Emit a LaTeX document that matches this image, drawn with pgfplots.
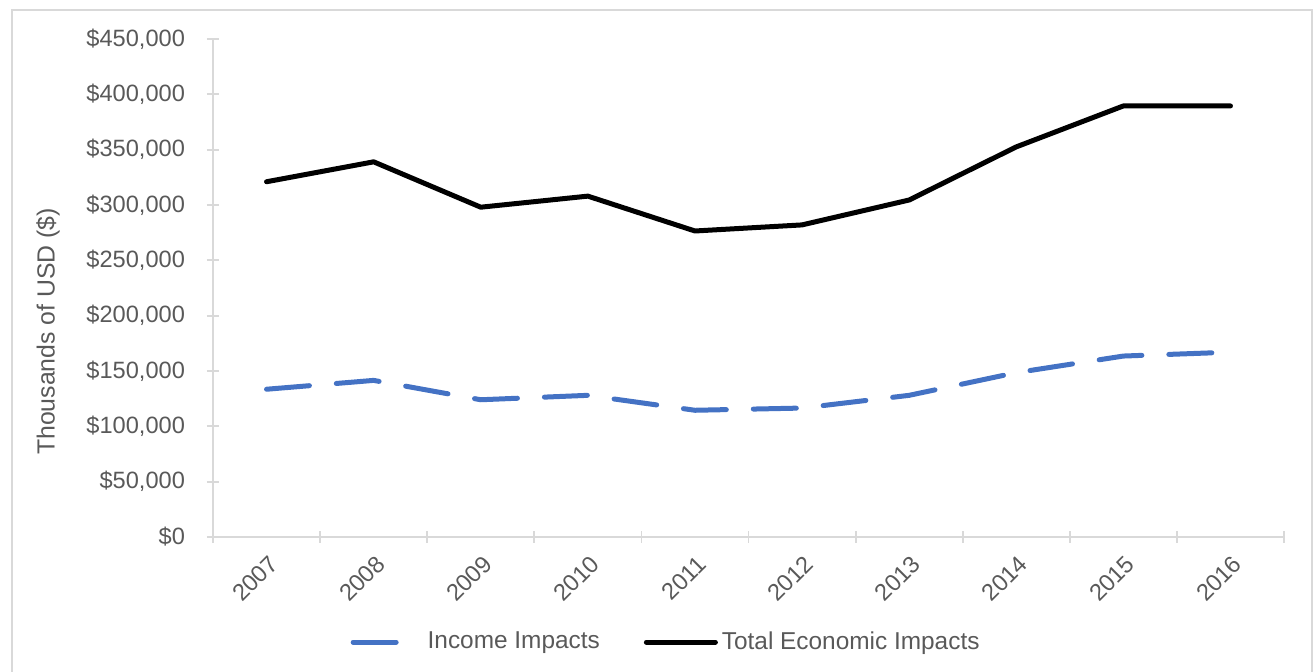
\documentclass[border=0pt]{standalone}
\usepackage{fontspec}
\setmainfont{Liberation Sans}
\usepackage{pgfplots}
\pgfplotsset{compat=1.18}

\definecolor{txtgray}{HTML}{595959}
\definecolor{axgray}{HTML}{D9D9D9}
\definecolor{incblue}{HTML}{4472C4}

\newcommand{\tickfont}{\fontsize{11.8}{13.5}\selectfont}
\newcommand{\labelfont}{\fontsize{12.4}{14}\selectfont}
\newcommand{\legendfont}{\fontsize{12.2}{14}\selectfont}

\pgfplotsset{
  incleg/.style={legend image code/.code={\draw[##1] (1.25pt,0pt) -- (23.75pt,0pt); \path[draw=none] (0pt,0pt) -- (36.5pt,0pt);}},
  totleg/.style={legend image code/.code={\draw[##1] (1.25pt,0pt) -- (35.75pt,0pt); \path[draw=none] (0pt,0pt) -- (37pt,0pt);}},
}

\begin{document}
\begin{tikzpicture}
% page area and the light frame round the chart
\path[use as bounding box] (0pt,0pt) rectangle (657pt,336pt);
\draw[axgray, line width=1pt] (6pt,0pt) -- (6pt,331pt) -- (656pt,331pt) -- (656pt,0pt);

\begin{axis}[
  at={(106.5pt,67.5pt)}, anchor=south west,
  scale only axis, width=535.5pt, height=249pt,
  xmin=-0.5, xmax=9.5,
  ymin=0, ymax=450000,
  axis x line*=bottom, axis y line*=left,
  axis line style={draw=axgray, line width=0.9pt, -},
  tick align=center,
  major tick length=6pt, minor tick length=6pt,
  tick style={draw=axgray, line width=0.9pt},
  xtick={0,...,9},
  xticklabels={2007,2008,2009,2010,2011,2012,2013,2014,2015,2016},
  minor xtick={-0.5,0.5,...,9.5},
  every major x tick/.append style={draw=none},
  ytick={0,50000,...,450000},
  scaled y ticks=false,
  yticklabel={\$\pgfmathprintnumber{\tick}},
  every tick label/.append style={font=\tickfont, text=txtgray},
  yticklabel style={xshift=-7.5pt, /pgf/number format/fixed,
    /pgf/number format/1000 sep={,}, /pgf/number format/assume math mode=true},
  xticklabel style={rotate=45, anchor=east, yshift=-8.5pt},
  ylabel={Thousands of USD (\$)},
  ylabel style={font=\labelfont, text=txtgray, at={(axis description cs:-0.154,0.4127)}, anchor=center},
  legend columns=2,
  legend style={draw=none, fill=none, font=\legendfont, text=txtgray,
    at={(axis description cs:0.424,-0.211)}, anchor=center,
    /tikz/every even column/.append style={column sep=20pt},
    inner sep=0pt},
  legend cell align=left,
]

% Income impacts, thousands of USD
\addplot[incblue, line width=2.5pt, line cap=round, line join=round,
  dash pattern=on 21.5pt off 13.5pt, incleg]
  coordinates {
  (0,133500) (1,141500) (2,124000) (3,128000) (4,114500)
  (5,116500) (6,128000) (7,148500) (8,163500) (9,167000)
};
\addlegendentry{Income Impacts}

% Total economic impacts, thousands of USD
\addplot[black, line width=2.5pt, line cap=round, line join=round, totleg]
  coordinates {
  (0,321000) (1,339000) (2,298000) (3,308000) (4,276500)
  (5,282000) (6,304500) (7,352500) (8,389500) (9,389500)
};
\addlegendentry{Total Economic Impacts}

\end{axis}
\end{tikzpicture}
\end{document}
